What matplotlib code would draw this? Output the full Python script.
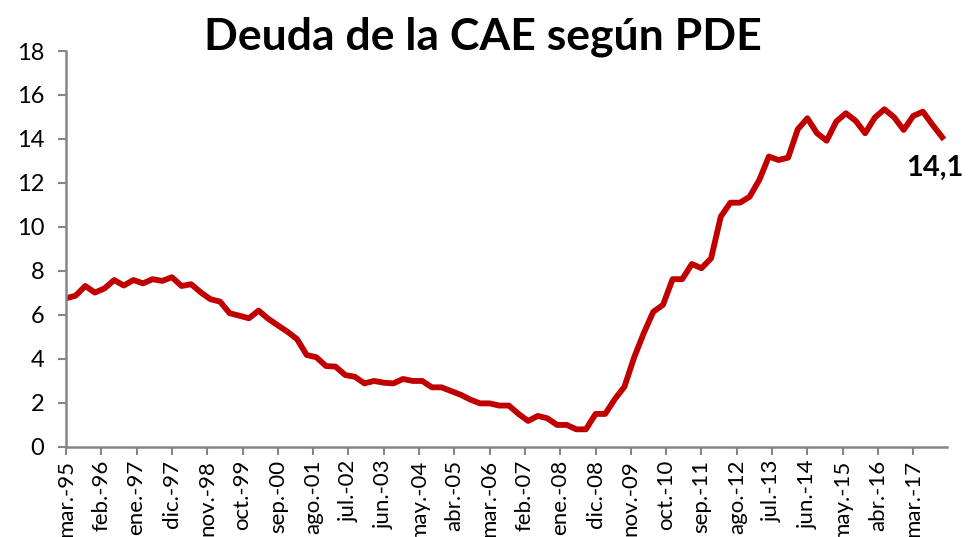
import matplotlib
matplotlib.use("Agg")
import matplotlib.pyplot as plt
import numpy as np

# Deuda de la CAE (% PIB), datos trimestrales mar-95 .. dic-17
deuda = [
    6.75, 6.87, 7.31, 7.01, 7.20, 7.58, 7.33, 7.58, 7.43, 7.62,
    7.54, 7.71, 7.31, 7.39, 7.02, 6.71, 6.60, 6.07, 5.96, 5.84,
    6.19, 5.82, 5.52, 5.23, 4.89, 4.17, 4.07, 3.67, 3.64, 3.26,
    3.18, 2.88, 2.99, 2.91, 2.88, 3.08, 2.99, 2.99, 2.70, 2.70,
    2.53, 2.36, 2.14, 1.97, 1.97, 1.87, 1.87, 1.49, 1.17, 1.40,
    1.29, 0.99, 0.99, 0.79, 0.79, 1.49, 1.49, 2.16, 2.73, 4.05,
    5.16, 6.14, 6.45, 7.62, 7.62, 8.31, 8.12, 8.57, 10.46, 11.10,
    11.10, 11.37, 12.13, 13.20, 13.04, 13.15, 14.44, 14.94, 14.26, 13.92,
    14.79, 15.17, 14.83, 14.26, 14.97, 15.35, 14.99, 14.41, 15.05, 15.24,
    14.64, 14.08,
]
etiqueta_final = "14,1"

etiquetas_x = [
    "mar.-95", "feb.-96", "ene.-97", "dic.-97", "nov.-98", "oct.-99",
    "sep.-00", "ago.-01", "jul.-02", "jun.-03", "may.-04", "abr.-05",
    "mar.-06", "feb.-07", "ene.-08", "dic.-08", "nov.-09", "oct.-10",
    "sep.-11", "ago.-12", "jul.-13", "jun.-14", "may.-15", "abr.-16",
    "mar.-17",
]

plt.rcParams['font.family'] = ['Lato', 'DejaVu Sans']

# meses desde mar-95
meses = np.arange(len(deuda)) * 3
meses_ticks = np.arange(len(etiquetas_x)) * 11

fig = plt.figure(figsize=(9.69, 5.37), dpi=100)
ax = fig.add_axes([0.0681, 0.1682, 0.9092, 0.7368])

ax.plot(meses, deuda, color="#C00000", linewidth=4.2, solid_joinstyle="round")

ax.set_xlim(0, 274.5)
ax.set_ylim(0, 18)
ax.set_yticks(np.arange(0, 19, 2))
ax.set_xticks(meses_ticks)
ax.set_xticklabels(etiquetas_x, rotation=90, fontsize=16)
ax.tick_params(axis="y", labelsize=17, length=5.5, width=1.5, color="#868686", pad=10)
ax.tick_params(axis="x", length=5.5, width=1.5, color="#868686", pad=4)

for lado in ["top", "right"]:
    ax.spines[lado].set_visible(False)
for lado in ["left", "bottom"]:
    ax.spines[lado].set_color("#868686")
    ax.spines[lado].set_linewidth(1.8)

ax.annotate(etiqueta_final, xy=(meses[-1], deuda[-1]), xytext=(-5, -22),
            textcoords="offset points", ha="center", va="center",
            fontsize=21, fontweight="bold")

fig.text(0.4985, 0.907, "Deuda de la CAE según PDE", ha="center", va="baseline",
         fontsize=32, fontweight="bold")

fig.savefig("out.png", dpi=100)
